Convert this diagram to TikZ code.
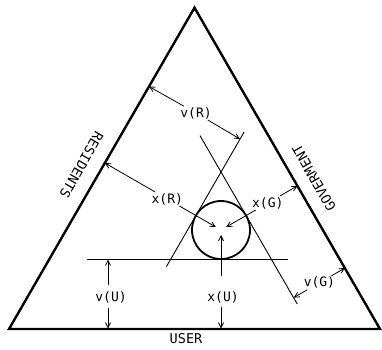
\documentclass[tikz,border=0pt]{standalone}
\usepackage{fontspec}
\newfontfamily\labfont{DejaVu Sans Mono}
\usetikzlibrary{arrows.meta}
\begin{document}
\begin{tikzpicture}[x=1pt,y=-1pt,
  outer/.style={line width=2.4pt, line join=miter},
  thinline/.style={line width=0.9pt},
  ringline/.style={line width=1.8pt},
  arr/.style={line width=0.8pt, -{Straight Barb[length=5pt,width=5pt]}},
  lab/.style={font=\labfont\fontsize{13}{13}\selectfont, inner sep=1pt},
  sidelab/.style={font=\labfont\fontsize{13.5}{13.5}\selectfont, inner sep=0pt}]
\useasboundingbox (0,0) rectangle (382,349);
% outer triangle
\coordinate (A) at (194.5,7.7);
\coordinate (B) at (9,329);
\coordinate (C) at (380,329);
\draw[outer] (A) -- (B) -- (C) -- cycle;
% incircle and inner lines
\coordinate (O) at (221,230);
\node[circle, draw, ringline, minimum size=58pt, inner sep=0pt] (ring) at (O) {};
\coordinate (Rtop) at (244,132.2);
\coordinate (Rbot) at (166.3,266.8);
\coordinate (Gtop) at (200,135.6);
\coordinate (Gbot) at (297.2,304);
\coordinate (Hl) at (87,259);
\coordinate (Hr) at (288,259);
\draw[thinline] (Rbot) -- (Rtop);
\draw[thinline] (Gtop) -- (Gbot);
\draw[thinline] (Hl) -- (Hr);
% v(R)
\coordinate (vRs) at (149,86.5);
\coordinate (vRl) at (240,139);
\node[lab] (vR) at (196,113) {v(R)};
\draw[arr] (vR) -- (vRs);
\draw[arr] (vR) -- (vRl);
% x(R)
\coordinate (xRs) at (104.9,163);
\coordinate (xRc) at (215.8,227);
\node[lab] (xR) at (167.3,199) {x(R)};
\draw[arr] (xR) -- (xRs);
\draw[arr] (xR) -- (xRc);
% x(G)
\coordinate (xGs) at (297.4,185.9);
\coordinate (xGc) at (226.2,227);
\node[lab] (xG) at (267.8,203) {x(G)};
\draw[arr] (xG) -- (xGs);
\draw[arr] (xG) -- (xGc);
% v(G)
\coordinate (vGs) at (345,268);
\coordinate (vGl) at (293.7,297.6);
\node[lab] (vG) at (319.4,282.8) {v(G)};
\draw[arr] (vG) -- (vGs);
\draw[arr] (vG) -- (vGl);
% v(U)
\node[lab] (vU) at (111,297) {v(U)};
\coordinate (vU1) at (108,285);
\coordinate (vUt) at (108,259.5);
\coordinate (vU2) at (108,308);
\coordinate (vUb) at (108,328.5);
\draw[arr] (vU1) -- (vUt);
\draw[arr] (vU2) -- (vUb);
% x(U)
\node[lab] (xU) at (223,297) {x(U)};
\coordinate (xU1) at (221,276);
\coordinate (xUc) at (221,235);
\coordinate (xU2) at (221,307);
\coordinate (xUb) at (221,328.5);
\draw[arr] (xU1) -- (xUc);
\draw[arr] (xU2) -- (xUb);
% side labels
\node[sidelab, rotate=240] (res) at (81.5,165) {RESIDENTS};
\node[sidelab, rotate=120] (gov) at (314,178) {GOVERMENT};
\node[sidelab] (user) at (186,339) {USER};
\end{tikzpicture}
\end{document}
